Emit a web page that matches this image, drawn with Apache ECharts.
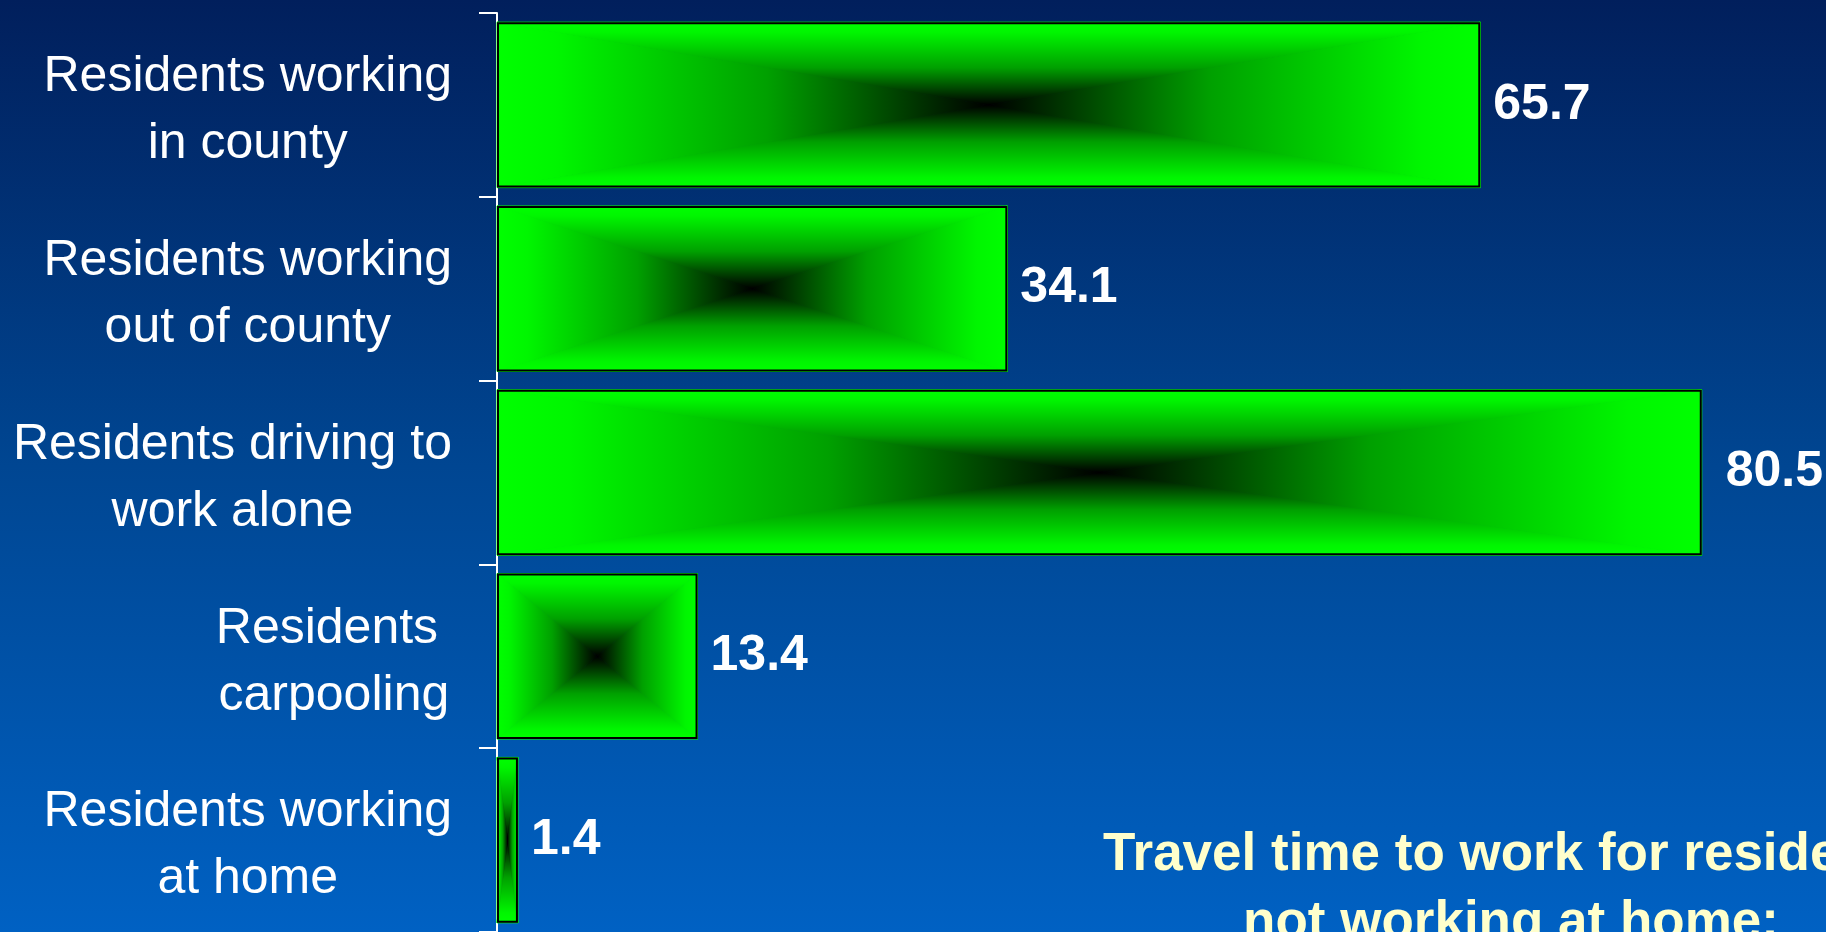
<!DOCTYPE html>
<html>
<head>
<meta charset="utf-8">
<script src="https://cdn.jsdelivr.net/npm/echarts@6/dist/echarts.min.js"></script>
<style>
html,body{margin:0;padding:0;width:1826px;height:932px;overflow:hidden;}
#chart{width:1826px;height:932px;}
</style>
</head>
<body>
<div id="chart"></div>
<script>
const categories = [
  'Residents working\nin county',
  'Residents working\nout of county',
  'Residents driving to\nwork alone',
  'Residents \ncarpooling',
  'Residents working\nat home'
];
const values = [65.7, 34.1, 80.5, 13.4, 1.4];
const titleLines = ['Travel time to work for residents', 'not working at home:'];

const GREEN = '#00ff00';
function grad(x, y, x2, y2) {
  return {
    type: 'linear', global: true, x: x, y: y, x2: x2, y2: y2,
    colorStops: [
      { offset: 0, color: GREEN },
      { offset: 0.12, color: '#00f600' },
      { offset: 0.55, color: '#00a000' },
      { offset: 1, color: '#000000' }
    ]
  };
}

const chart = echarts.init(document.getElementById('chart'));
const option = {
  backgroundColor: {
    type: 'linear', x: 0, y: 0, x2: 0, y2: 1,
    colorStops: [
      { offset: 0, color: '#011f5c' },
      { offset: 0.5, color: '#004692' },
      { offset: 1, color: '#0061c3' }
    ]
  },
  animation: false,
  grid: { left: 497, top: 13, width: 1317, height: 920 },
  xAxis: { type: 'value', min: 0, max: 88, show: false },
  yAxis: {
    type: 'category',
    data: categories,
    inverse: true,
    axisLine: { show: true, lineStyle: { color: '#ffffff', width: 2 } },
    axisTick: { show: true, length: 18, lineStyle: { color: '#ffffff', width: 2 } },
    axisLabel: {
      color: '#ffffff',
      fontFamily: '"Liberation Sans", Arial, sans-serif',
      fontSize: 50,
      lineHeight: 67,
      margin: 45,
      align: 'right',
      padding: [12, 0, 0, 0],
      formatter: function (v) {
        return v.split('\n').map(s => '{c|' + s + '}').join('\n');
      },
      rich: {
        c: {
          color: '#ffffff',
          fontFamily: '"Liberation Sans", Arial, sans-serif',
          fontSize: 50,
          lineHeight: 67,
          align: 'center'
        }
      }
    },
    splitLine: { show: false }
  },
  series: [
    {
      type: 'custom',
      z: 1,
      data: values.map((v, i) => [v, i]),
      encode: { x: 0, y: 1 },
      renderItem: function (params, api) {
        const v = api.value(0), c = api.value(1);
        const p0 = api.coord([0, c]);
        const p1 = api.coord([v, c]);
        const band = api.size([0, 1])[1];
        const h = band * 0.9;
        const x0 = p0[0], x1 = p1[0], yc = p0[1];
        const y0 = yc - h / 2, y1 = yc + h / 2, cx = (x0 + x1) / 2;
        function tri(points, fill) {
          return { type: 'polygon', shape: { points: points },
            style: { fill: fill, stroke: fill, lineWidth: 1 } };
        }
        return {
          type: 'group',
          children: [
            tri([[x0, y0], [x1, y0], [cx, yc]], grad(cx, y0, cx, yc)),
            tri([[x0, y1], [x1, y1], [cx, yc]], grad(cx, y1, cx, yc)),
            tri([[x0, y0], [x0, y1], [cx, yc]], grad(x0, yc, cx, yc)),
            tri([[x1, y0], [x1, y1], [cx, yc]], grad(x1, yc, cx, yc))
          ]
        };
      }
    },
    {
      type: 'bar',
      z: 2,
      barCategoryGap: '10%',
      data: values.map((v, i) => ({
        value: v,
        label: { distance: i === 2 ? 24 : 13 }
      })),
      itemStyle: { color: 'rgba(0,0,0,0)', borderColor: '#000000', borderWidth: 2 },
      label: {
        show: true,
        position: 'right',
        color: '#ffffff',
        fontFamily: '"Liberation Sans", Arial, sans-serif',
        fontWeight: 'bold',
        fontSize: 50,
        formatter: p => p.value.toFixed(1)
      }
    }
  ],
  graphic: [
    {
      type: 'text',
      x: 1511,
      y: 821,
      style: {
        text: titleLines.join('\n'),
        fill: '#ffffcc',
        font: 'bold 53px "Liberation Sans", Arial, sans-serif',
        lineHeight: 68,
        align: 'center',
        verticalAlign: 'top'
      }
    }
  ]
};
chart.setOption(option);
</script>
</body>
</html>
